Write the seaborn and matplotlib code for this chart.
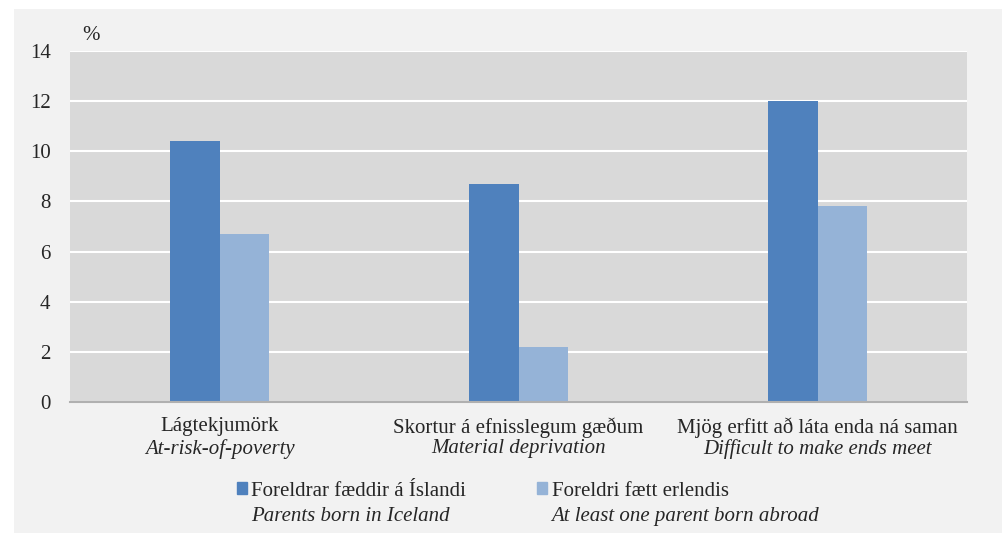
import matplotlib
matplotlib.use("Agg")
import matplotlib.pyplot as plt
import matplotlib.patches as mpatches
import seaborn as sns
import pandas as pd

categories_is = ["Lágtekjumörk", "Skortur á efnisslegum gæðum", "Mjög erfitt að láta enda ná saman"]
categories_en = ["At-risk-of-poverty", "Material deprivation", "Difficult to make ends meet"]
series_is = ["Foreldrar fæddir á Íslandi", "Foreldri fætt erlendis"]
series_en = ["Parents born in Iceland", "At least one parent born abroad"]
values_iceland = [10.4, 8.7, 12.0]
values_abroad = [6.7, 2.2, 7.8]
yticks = [0, 2, 4, 6, 8, 10, 12, 14]

colors = ["#4f81bd", "#95b3d7"]

df = pd.DataFrame({
    "cat": categories_is * 2,
    "series": [series_is[0]] * 3 + [series_is[1]] * 3,
    "value": values_iceland + values_abroad,
})

sns.set_theme(style="white")
plt.rcParams["font.family"] = "serif"
plt.rcParams["font.serif"] = ["Liberation Serif", "DejaVu Serif"]

FS = 15
W, H = 1002, 533
fig = plt.figure(figsize=(W / 100, H / 100), dpi=100)
fig.patch.set_facecolor("white")
fig.patches.append(mpatches.Rectangle((14 / W, 0), 1 - 14 / W, 1 - 9 / H,
                                      transform=fig.transFigure, facecolor="#f2f2f2",
                                      edgecolor="none", zorder=-10))

ax = fig.add_axes([70 / W, 1 - 402 / H, (967 - 70) / W, (402 - 51) / H])
ax.set_facecolor("#d9d9d9")
sns.barplot(data=df, x="cat", y="value", hue="series", palette=colors,
            width=0.33, ax=ax, legend=False, saturation=1, errorbar=None,
            edgecolor="none")

ax.set_ylim(0, 14)
ax.set_xlim(-0.5, 2.5)
ax.set_yticks(yticks)
ax.set_yticklabels([str(t) for t in yticks], fontsize=FS)
ax.yaxis.grid(True, color="white", linewidth=1.5)
ax.set_axisbelow(True)
for s in ["top", "right", "left"]:
    ax.spines[s].set_visible(False)
ax.spines["bottom"].set_color("#b0b0b0")
ax.spines["bottom"].set_linewidth(1.5)
ax.tick_params(axis="y", length=0, pad=14)
ax.tick_params(axis="x", length=0, pad=11)
ax.set_xticks(range(3))
ax.set_xticklabels(categories_is, fontsize=FS)
ax.set_xlabel("")
ax.set_ylabel("")
for i, t in enumerate(categories_en):
    ax.annotate(t, xy=(i, 0), xycoords=("data", "axes fraction"),
                xytext=(0, -27), textcoords="offset points",
                ha="center", va="top", fontsize=FS, style="italic")

ax.text(12 / (967 - 70), 1.0 + 6 / (402 - 51), "%", transform=ax.transAxes,
        fontsize=FS, ha="left", va="bottom")

handles = [mpatches.Patch(color=colors[0]), mpatches.Patch(color="none"),
           mpatches.Patch(color=colors[1]), mpatches.Patch(color="none")]
labels = [series_is[0], series_en[0], series_is[1], series_en[1]]
leg = fig.legend(handles, labels, ncol=2, loc="center", bbox_to_anchor=(528 / W, 1 - 504 / H),
                 frameon=False, fontsize=FS, handlelength=0.5, handleheight=0.5,
                 handletextpad=0.2, columnspacing=3.4, labelspacing=0.33)
for i, txt in enumerate(leg.get_texts()):
    if i in (1, 3):
        txt.set_style("italic")

fig.savefig("out.png", dpi=100)
